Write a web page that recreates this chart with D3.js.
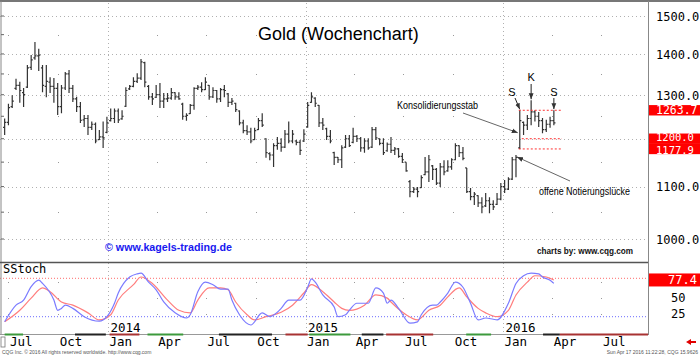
<!DOCTYPE html>
<html><head><meta charset="utf-8">
<script src="https://cdn.jsdelivr.net/npm/d3@7"></script>
<style>body{margin:0;background:#fff}svg{display:block}</style>
</head><body><svg id="c" width="700" height="356"></svg>
<script>
// ---------- DATA ----------
const firstWeek = "2013-06-24";
const opens = [1225,1236,1272,1315,1322,1305,1318,1366,1390,1395,1365,1320,1330,1320,1315,1272,1316,1350,1315,1290,1272,1242,1245,1225,1232,1198,1204,1214,1240,1245,1262,1244,1273,1314,1320,1332,1340,1378,1320,1295,1294,1300,1285,1290,1292,1305,1295,1278,1250,
1256,1275,1315,1318,1312,1322,1295,1310,1290,1312,1302,1282,1280,1262,1235,1218,1215,1198,1220,1240,1200,1168,1165,1185,1190,1182,1210,1195,1195,1192,1195,1226,1282,1292,1275,1235,1222,1205,1170,1160,1155,1182,1200,1192,1205,1200,1180,1195,1182,
1220,1200,1190,1174,1188,1175,1178,1162,1150,1110,1090,1095,1098,1124,1130,1142,1135,1107,1140,1132,1140,1155,1185,1170,1138,1090,1080,1082,1068,1062,1072,1065,1065,1075,1100,1095,1115,1155,1180,1236,1230,1245,1260,1250,1240,1220,1232,1240];
const highs = [1245,1279,1299,1338,1331,1316,1372,1397,1431,1413,1372,1372,1342,1340,1328,1323,1355,1360,1323,1295,1283,1253,1253,1238,1236,1219,1238,1249,1268,1268,1268,1264,1318,1323,1342,1352,1387,1380,1323,1304,1323,1328,1304,1304,1316,1306,1306,1281,1257,
1278,1318,1323,1330,1342,1323,1318,1311,1316,1323,1304,1292,1281,1264,1242,1230,1224,1224,1246,1257,1201,1171,1190,1204,1201,1219,1238,1219,1197,1197,1221,1283,1306,1294,1276,1246,1224,1219,1172,1161,1186,1208,1208,1224,1208,1204,1201,1201,1226,
1226,1201,1201,1192,1204,1182,1180,1169,1150,1113,1099,1099,1123,1161,1165,1144,1138,1148,1154,1154,1158,1190,1186,1182,1138,1097,1089,1083,1079,1087,1079,1073,1087,1107,1113,1119,1161,1165,1263.7,1238,1253,1287,1264,1260,1246,1242,1249,1264];
const lows = [1208,1230,1269,1311,1281,1271,1316,1360,1385,1357,1306,1294,1304,1281,1253,1257,1311,1304,1283,1260,1235,1226,1208,1219,1190,1197,1180,1212,1238,1235,1235,1242,1271,1311,1318,1328,1335,1318,1288,1276,1292,1269,1269,1283,1288,1288,1288,1242,1240,
1255,1265,1311,1306,1311,1288,1292,1281,1283,1294,1271,1276,1260,1230,1212,1208,1190,1197,1219,1226,1159,1154,1140,1176,1172,1180,1190,1190,1186,1165,1193,1224,1281,1271,1226,1219,1197,1190,1144,1148,1138,1180,1182,1190,1193,1172,1170,1176,1180,
1197,1186,1165,1172,1169,1165,1159,1148,1130,1079,1087,1079,1097,1123,1109,1113,1103,1099,1123,1130,1134,1154,1161,1154,1087,1073,1064,1060,1048,1060,1048,1054,1064,1073,1087,1093,1113,1119,1177.9,1208,1219,1230,1238,1226,1212,1215,1224,1230];
const closes = [1236,1270,1285,1322,1310,1300,1365,1385,1395,1397,1322,1332,1320,1315,1272,1316,1350,1315,1290,1272,1241,1245,1225,1232,1195,1204,1202,1235,1245,1262,1242,1250,1310,1320,1332,1340,1380,1330,1295,1290,1300,1285,1290,1292,1305,1295,1290,1250,1252,
1275,1315,1318,1312,1330,1295,1310,1290,1312,1310,1282,1285,1265,1235,1218,1215,1195,1218,1240,1230,1170,1165,1185,1190,1182,1210,1195,1210,1192,1175,1210,1275,1295,1280,1235,1230,1205,1195,1160,1155,1180,1200,1185,1205,1200,1180,1195,1180,1220,
1202,1190,1170,1188,1175,1178,1162,1155,1132,1090,1095,1090,1118,1130,1155,1135,1107,1140,1130,1140,1155,1185,1170,1158,1090,1080,1085,1068,1060,1072,1065,1060,1075,1100,1095,1115,1155,1160,1240,1230,1245,1260,1250,1240,1220,1232,1240,1235];
// slow stochastic, read at selected weeks (week index, value)
const stochKWeek = [0,3,5,7,9,10,13,14,15,16,18,21,25,27,29,30,33,35,36,38,40,42,45,48,49,51,53,55,57,59,60,62,65,68,70,72,73,75,78,80,81,82,84,87,88,90,91,93,96,98,100,101,102,104,107,109,110,113,114,115,117,119,121,123,125,127,129,130,133,135,137,139,141,142,144,145];
const stochK     = [12,38,46,67,77,72,46,30,33,38,33,20,13,20,41,57,82,87,88,74,62,43,26,18,23,59,74,70,63,63,46,23,7,26,20,27,33,46,46,66,79,74,54,35,20,23,30,41,41,65,57,41,46,33,10,12,23,38,38,43,57,74,66,41,15,18,16,15,41,72,84,88,87,82,77,72];
const stochDWeek = [0,4,7,10,12,15,18,22,25,28,30,34,36,39,43,46,49,51,54,57,59,61,64,66,69,73,76,79,81,84,87,89,91,95,98,101,102,106,109,112,115,117,120,122,125,127,130,133,135,138,140,143,145];
const stochD     = [12,30,49,65,59,43,38,26,15,23,46,70,82,72,46,30,26,46,65,65,62,43,23,15,20,27,38,57,70,59,43,33,30,38,54,49,43,23,15,30,38,51,65,51,33,26,20,30,54,74,84,82,77.4];
const priceTicks = [1000,1100,1200,1300,1400,1500];
const halfLevels = [1050,1150,1250,1350,1450];
const markedLevels = [1263.7,1200.0,1177.9];
const stochTicks = [50,25];
const lastStochK = 71;
const lastStochD = 77.4;
const monthTickLabels = ["Jul","Oct","Jan","Apr","Jul","Oct","Jan","Apr","Jul","Oct","Jan","Apr","Jul"];
const yearLabels = ["2014","2015","2016"];
// contract strip under the chart: [start, end, colour]
const stripSegments = [["2013-06-24","2013-07-28","#3c9a3c"],["2013-11-01","2013-12-28","#222"],["2014-01-04","2014-02-28","#a83232"],["2014-03-15","2014-05-20","#3c9a3c"],["2014-07-25","2014-10-31","#222"],["2014-11-25","2015-01-05","#a83232"],["2015-01-08","2015-03-25","#3c9a3c"],["2015-04-15","2015-05-25","#222"],["2015-05-30","2015-08-25","#a83232"],["2015-10-25","2015-12-10","#3c9a3c"],["2016-03-15","2016-04-15","#222"],["2016-04-15","2016-09-25","#a83232"]];

// ---------- SCALES ----------
const parse = d3.timeParse("%Y-%m-%d");
const week0 = parse(firstWeek);
const dates = highs.map((_, i) => d3.timeWeek.offset(week0, i));
const x = d3.scaleTime().domain([new Date(2014,0,1), new Date(2016,0,1)]).range([108, 503]);
const y = d3.scaleLog().domain([1000,1500]).range([239, 16]);
const ys = d3.scaleLinear().domain([0,100]).range([329.5, 265.5]);
const PR = 648; // right edge of plot
const svg = d3.select("#c");
const mono = "'DejaVu Sans Mono', monospace";
const sans = "'Liberation Sans', Arial, sans-serif";

// ---------- GRID ----------
const grid = svg.append("g");
grid.selectAll("line.h").data(priceTicks).join("line")
  .attr("x1",0).attr("x2",PR).attr("y1",d=>Math.round(y(d))+0.5).attr("y2",d=>Math.round(y(d))+0.5)
  .attr("stroke","#b0b0b0").attr("stroke-dasharray","1,3");
const years = d3.timeYear.range(new Date(2014,0,1), new Date(2016,1,1));
grid.selectAll("line.v").data(years).join("line")
  .attr("x1",d=>Math.round(x(d))+0.5).attr("x2",d=>Math.round(x(d))+0.5).attr("y1",3).attr("y2",334)
  .attr("stroke","#b0b0b0").attr("stroke-dasharray","1,3");
const quarters = d3.timeMonth.every(3).range(new Date(2013,6,1), new Date(2016,7,1)).filter(d=>d.getMonth()!==0);
const dots = [];
quarters.forEach(q => halfLevels.forEach(l => dots.push([x(q), y(l)])));
quarters.forEach(q => [75,50,25].forEach(l => dots.push([x(q), ys(l)])));
grid.selectAll("rect.dot").data(dots).join("rect")
  .attr("x",d=>Math.round(d[0])).attr("y",d=>Math.round(d[1])).attr("width",1).attr("height",1).attr("fill","#999");

// stoch reference levels
svg.append("line").attr("x1",0).attr("x2",PR).attr("y1",ys(80)).attr("y2",ys(80)).attr("stroke","#ff6a6a").attr("stroke-dasharray","1,2");
svg.append("line").attr("x1",0).attr("x2",PR).attr("y1",ys(20)).attr("y2",ys(20)).attr("stroke","#6a6aff").attr("stroke-dasharray","1,2");

// ---------- FRAME ----------
svg.append("line").attr("x1",0).attr("x2",700).attr("y1",1).attr("y2",1).attr("stroke","#777").attr("stroke-width",2);
svg.append("line").attr("x1",1).attr("x2",1).attr("y1",1).attr("y2",334).attr("stroke","#888");
svg.append("line").attr("x1",PR+0.5).attr("x2",PR+0.5).attr("y1",1).attr("y2",335).attr("stroke","#888");
svg.append("line").attr("x1",0).attr("x2",PR).attr("y1",262.5).attr("y2",262.5).attr("stroke","#555").attr("stroke-width",1.5);
svg.append("line").attr("x1",0).attr("x2",PR).attr("y1",334.5).attr("y2",334.5).attr("stroke","#999");
svg.selectAll("rect.strip").data(stripSegments).join("rect")
  .attr("x",d=>Math.max(0,x(parse(d[0])))).attr("y",333.5)
  .attr("width",d=>Math.min(PR,x(parse(d[1])))-Math.max(0,x(parse(d[0])))).attr("height",2).attr("fill",d=>d[2]);
// left edge ticks
svg.selectAll("line.lt").data(priceTicks.concat(halfLevels)).join("line")
  .attr("x1",1).attr("x2",4).attr("y1",d=>y(d)).attr("y2",d=>y(d)).attr("stroke","#666");

// ---------- PRICE BARS ----------
const bars = svg.append("g").attr("stroke","#333").attr("stroke-width",1.2).attr("fill","none");
bars.selectAll("path").data(dates).join("path")
  .attr("d",(d,i)=>{
    const cx = x(d);
    return `M${cx},${y(highs[i])}V${y(lows[i])}M${cx-1.6},${y(opens[i])}H${cx}M${cx},${y(closes[i])}H${cx+1.6}`;
  });

// marked levels (red dotted)
const iStab = 136;
svg.selectAll("line.lvl").data(markedLevels).join("line")
  .attr("x1",(d,i)=> x(dates[iStab]) + (i===1?2:-1)).attr("x2",562)
  .attr("y1",d=>y(d)).attr("y2",d=>y(d))
  .attr("stroke","#ff3030").attr("stroke-dasharray","2,2").attr("stroke-width",1);

// ---------- STOCH ----------
const line = d3.line().curve(d3.curveMonotoneX);
svg.append("path").attr("d", line(stochDWeek.map((w,i)=>[x(dates[w]), ys(stochD[i])])))
  .attr("fill","none").attr("stroke","#ff7d7d").attr("stroke-width",1.2);
svg.append("path").attr("d", line(stochKWeek.map((w,i)=>[x(dates[w]), ys(stochK[i])])))
  .attr("fill","none").attr("stroke","#7b7bff").attr("stroke-width",1.2);

// ---------- AXES ----------
// tick labels hidden behind a marked-level box are not drawn twice
const visibleTicks = priceTicks.filter(t => !markedLevels.includes(t));
const ra = svg.append("g").attr("transform","translate(656,0)")
  .call(d3.axisRight(y).tickValues(visibleTicks).tickFormat(d3.format(".1f")).tickSize(0).tickPadding(0));
ra.select(".domain").remove();
ra.selectAll("text").attr("font-family",mono).attr("font-size",12).attr("fill","#000").attr("dy","0.36em");

// label boxes for marked levels (drawn bottom-up so the upper box covers the lower one)
const lb = svg.append("g");
const nudge = [0,-1,1];
[0,1,2].reverse().forEach(i=>{
  const v = markedLevels[i], cy = y(v);
  lb.append("rect").attr("x",PR+1).attr("y",cy-5.2).attr("width",700-PR).attr("height",10.4).attr("fill","#ff0000");
  lb.append("text").attr("x",656).attr("y",cy+nudge[i]).attr("dy","0.34em").attr("font-family",mono).attr("font-size",i===0?11.5:10.5)
    .attr("fill","#fff").text(d3.format(".1f")(v));
});

const sa = svg.append("g").attr("transform","translate(671,0)")
  .call(d3.axisRight(ys).tickValues(stochTicks).tickFormat(d3.format("d")).tickSize(0).tickPadding(0));
sa.select(".domain").remove();
sa.selectAll("text").attr("font-family",mono).attr("font-size",12).attr("fill","#000").attr("dy","0.36em");
svg.append("rect").attr("x",PR+1).attr("y",ys(lastStochK)-4.5).attr("width",700-PR).attr("height",5).attr("fill","#0000ff");
svg.append("rect").attr("x",PR+1).attr("y",ys(lastStochD)-6.5).attr("width",700-PR).attr("height",13).attr("fill","#ff0000");
svg.append("text").attr("x",697).attr("y",ys(lastStochD)).attr("dy","0.36em").attr("text-anchor","end")
  .attr("font-family",mono).attr("font-size",12).attr("fill","#fff").text(d3.format(".1f")(lastStochD));

const monthTicks = d3.timeMonth.every(3).range(new Date(2013,6,1), new Date(2016,7,1));
const ma = svg.append("g").attr("transform","translate(0,336)")
  .call(d3.axisBottom(x).tickValues(monthTicks).tickFormat((d,i)=>monthTickLabels[i]).tickSize(0).tickPadding(0));
ma.select(".domain").remove();
ma.selectAll("text").attr("text-anchor","start").attr("dx",1).attr("dy","0.78em")
  .attr("font-family",mono).attr("font-size",12.5).attr("fill","#000");
const ya = svg.append("g").attr("transform","translate(0,322)")
  .call(d3.axisBottom(x).tickValues(years).tickFormat((d,i)=>yearLabels[i]).tickSize(0).tickPadding(0));
ya.select(".domain").remove();
ya.selectAll("text").attr("text-anchor","start").attr("dx",2).attr("dy","0.78em")
  .attr("font-family",mono).attr("font-size",12.5).attr("fill","#000");
svg.append("rect").attr("x",1).attr("y",337).attr("width",4).attr("height",10).attr("fill","none").attr("stroke","#777").attr("stroke-width",0.8);

// ---------- TEXTS / ANNOTATIONS ----------
svg.append("text").attr("x",258).attr("y",40).attr("font-family",sans).attr("font-size",18).attr("fill","#000").text("Gold (Wochenchart)");
svg.append("text").attr("x",3).attr("y",273).attr("font-family",mono).attr("font-size",12).attr("fill","#000").text("SStoch");
svg.append("text").attr("x",105).attr("y",251).attr("font-family",sans).attr("font-weight","bold").attr("font-size",11.5)
  .attr("fill","#1818f0").attr("textLength",127).attr("lengthAdjust","spacingAndGlyphs").text("© www.kagels-trading.de");
svg.append("text").attr("x",537).attr("y",254).attr("font-family",sans).attr("font-weight","bold").attr("font-size",9)
  .attr("fill","#111").attr("textLength",96).attr("lengthAdjust","spacingAndGlyphs").text("charts by: www.cqg.com");
svg.append("text").attr("x",397).attr("y",109).attr("font-family","'Liberation Sans Narrow', "+sans).attr("font-size",11)
  .attr("fill","#000").attr("textLength",81).attr("lengthAdjust","spacingAndGlyphs").text("Konsolidierungsstab");
svg.append("text").attr("x",539).attr("y",195).attr("font-family","'Liberation Sans Narrow', "+sans).attr("font-size",11)
  .attr("fill","#000").attr("textLength",91).attr("lengthAdjust","spacingAndGlyphs").text("offene Notierungslücke");

const defs = svg.append("defs");
defs.append("marker").attr("id","ah").attr("viewBox","0 0 10 10").attr("refX",10).attr("refY",5)
  .attr("markerWidth",6).attr("markerHeight",6).attr("orient","auto-start-reverse")
  .append("path").attr("d","M0,1L10,5L0,9Z").attr("fill","#333");
function arrow(x1,y1,x2,y2,col){
  svg.append("line").attr("x1",x1).attr("y1",y1).attr("x2",x2).attr("y2",y2)
    .attr("stroke",col).attr("stroke-width",1).attr("marker-end","url(#ah)");
}
const xs = x(dates[iStab]);
arrow(463,113, xs-2, y(1200)-6, "#666");
arrow(570,181, x(dates[iStab-1])+1, y(highs[iStab-1])+2, "#666");
const iK = 139, iS2 = 145;
svg.append("text").attr("x",512).attr("y",96).attr("text-anchor","middle").attr("font-family",sans).attr("font-size",11).text("S");
arrow(515,98, xs, y(highs[iStab])-1, "#222");
svg.append("text").attr("x",x(dates[iK])).attr("y",81).attr("text-anchor","middle").attr("font-family",sans).attr("font-size",11).text("K");
arrow(x(dates[iK]),84, x(dates[iK]), y(highs[iK])-1, "#222");
svg.append("text").attr("x",x(dates[iS2])).attr("y",96).attr("text-anchor","middle").attr("font-family",sans).attr("font-size",11).text("S");
arrow(x(dates[iS2]),98, x(dates[iS2]), y(highs[iS2])-1, "#222");

// footer
svg.append("text").attr("x",2).attr("y",354).attr("font-family",sans).attr("font-size",5).attr("fill","#555")
  .text("CQG Inc. © 2016 All rights reserved worldwide. http://www.cqg.com");
svg.append("text").attr("x",698).attr("y",354).attr("text-anchor","end").attr("font-family",sans).attr("font-size",5).attr("fill","#555")
  .text("Sun Apr 17 2016 11:22:28, CQG 15.9626");
svg.append("path").attr("d","M686,342L691,339V341H696V343H691V345Z").attr("fill","#e00000");
</script></body></html>
